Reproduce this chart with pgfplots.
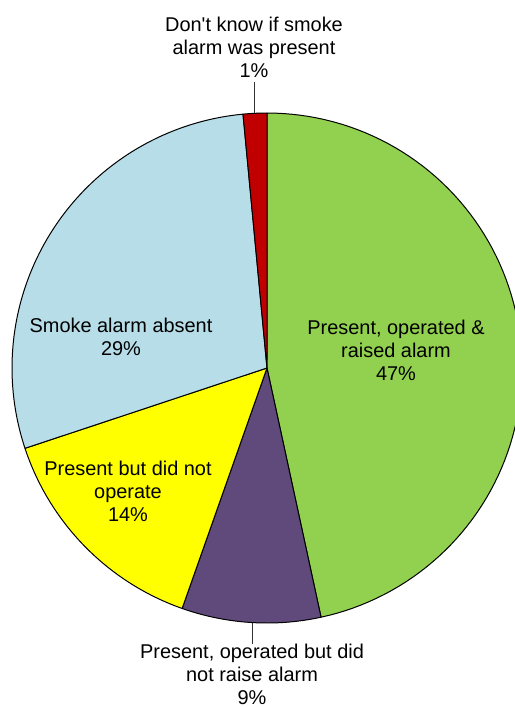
\documentclass[border=0pt]{standalone}
\usepackage{fontspec}
\setmainfont{Liberation Sans}[Ligatures=TeXOff]
\usepackage{pgfplots}
\pgfplotsset{compat=1.18}

\definecolor{cgreen}{RGB}{146,208,80}
\definecolor{cpurple}{RGB}{96,74,123}
\definecolor{cyellow}{RGB}{255,255,0}
\definecolor{cblue}{RGB}{183,221,232}
\definecolor{cred}{RGB}{192,0,0}

% shares (%), clockwise from 12 o'clock
\def\vGreen{46.6}
\def\vPurple{8.8}
\def\vYellow{14.5}
\def\vBlue{28.6}
\def\vRed{1.5}

\begin{document}
\begin{tikzpicture}
\pgfmathsetmacro\aA{90}
\pgfmathsetmacro\aB{\aA-3.6*\vGreen}
\pgfmathsetmacro\aC{\aB-3.6*\vPurple}
\pgfmathsetmacro\aD{\aC-3.6*\vYellow}
\pgfmathsetmacro\aE{\aD-3.6*\vBlue}
\pgfmathsetmacro\aF{\aE-3.6*\vRed}
\useasboundingbox (0,0) rectangle (515bp,707bp);
\begin{axis}[
  x=1bp, y=1bp,
  xmin=0, xmax=515, ymin=0, ymax=707,
  y dir=reverse,
  scale only axis,
  hide axis,
  clip=true,
  at={(0,0)}, anchor=south west,
  every axis plot/.append style={draw=black, line width=1pt, line join=round},
  samples=90,
]
\addplot[fill=cgreen,  domain=\aB:\aA] ({267+255*cos(x)},{368-255*sin(x)}) -- (axis cs:267,368) -- cycle;
\addplot[fill=cpurple, domain=\aC:\aB] ({267+255*cos(x)},{368-255*sin(x)}) -- (axis cs:267,368) -- cycle;
\addplot[fill=cyellow, domain=\aD:\aC] ({267+255*cos(x)},{368-255*sin(x)}) -- (axis cs:267,368) -- cycle;
\addplot[fill=cblue,   domain=\aE:\aD] ({267+255*cos(x)},{368-255*sin(x)}) -- (axis cs:267,368) -- cycle;
\addplot[fill=cred,    domain=\aF:\aE] ({267+255*cos(x)},{368-255*sin(x)}) -- (axis cs:267,368) -- cycle;

\draw[black!80, line width=0.8pt] (axis cs:254,82) -- (axis cs:254,113);
\draw[black!80, line width=0.8pt] (axis cs:252,623) -- (axis cs:252,644);

\begin{scope}[every node/.style={align=center, font=\fontsize{20}{23}\selectfont, inner sep=0pt}]
\node at (axis cs:254,47.5) {Don't know if smoke\\alarm was present\\1\%};
\node at (axis cs:252,674.5) {Present, operated but did\\not raise alarm\\9\%};
\node at (axis cs:121,337) {Smoke alarm absent\\29\%};
\node at (axis cs:128,491) {Present but did not\\operate\\14\%};
\node at (axis cs:396,350) {Present, operated \&\\raised alarm\\47\%};
\end{scope}
\end{axis}
\end{tikzpicture}
\end{document}
